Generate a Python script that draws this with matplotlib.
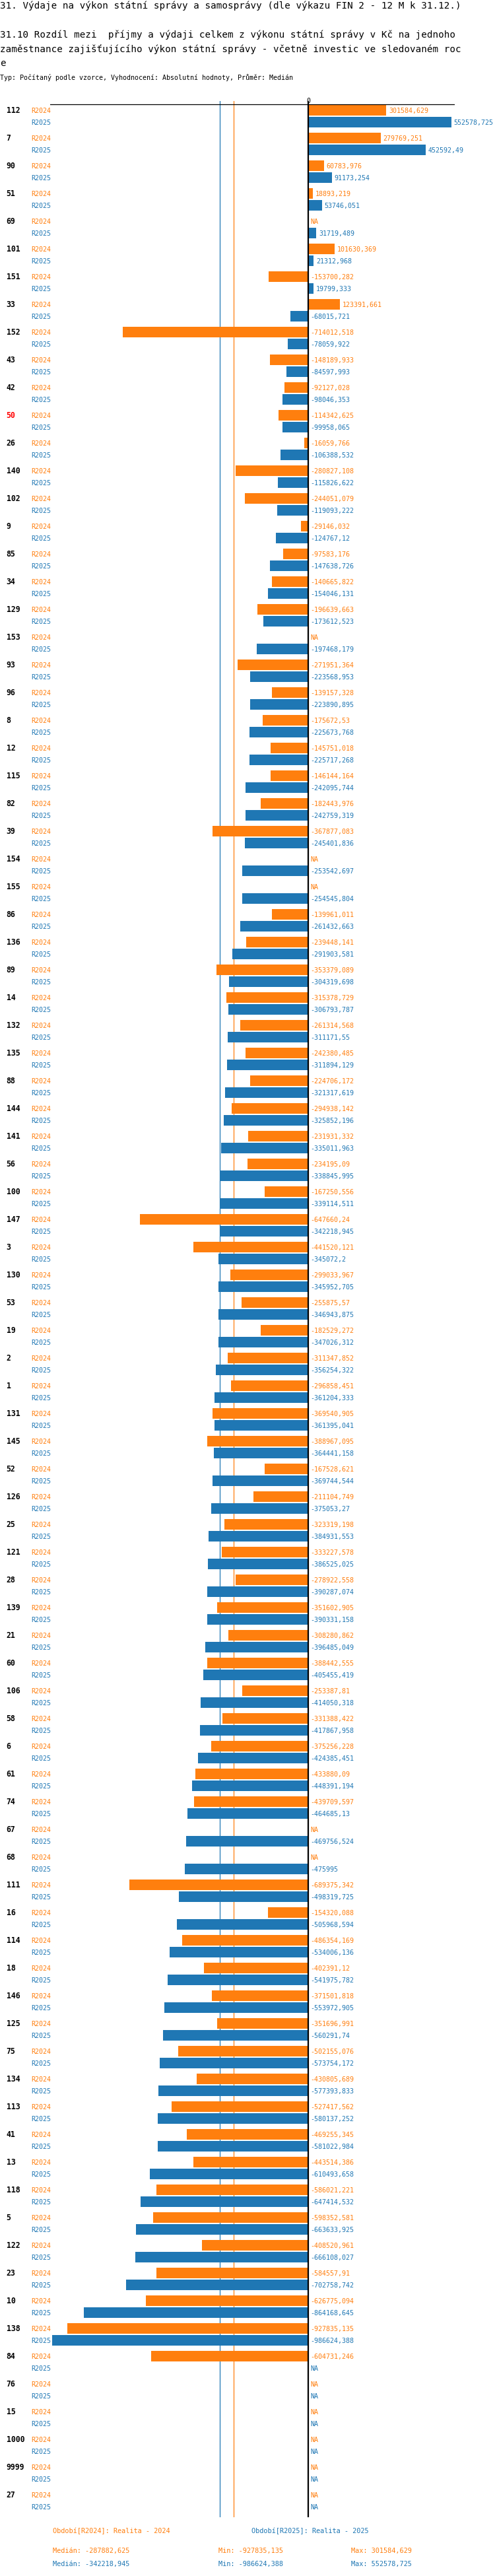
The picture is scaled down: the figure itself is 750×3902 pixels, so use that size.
import numpy as np
import matplotlib
matplotlib.use("Agg")
import matplotlib.pyplot as plt
from matplotlib.transforms import blended_transform_factory

NA = np.nan

categories = ["112", "7", "90", "51", "69", "101", "151", "33", "152", "43",
              "42", "50", "26", "140", "102", "9", "85", "34", "129", "153",
              "93", "96", "8", "12", "115", "82", "39", "154", "155", "86",
              "136", "89", "14", "132", "135", "88", "144", "141", "56", "100",
              "147", "3", "130", "53", "19", "2", "1", "131", "145", "52",
              "126", "25", "121", "28", "139", "21", "60", "106", "58", "6",
              "61", "74", "67", "68", "111", "16", "114", "18", "146", "125",
              "75", "134", "113", "41", "13", "118", "5", "122", "23", "10",
              "138", "84", "76", "15", "1000", "9999", "27"]

r2024 = [301584.629, 279769.251, 60783.976, 18893.219, NA, 101630.369, -153700.282, 123391.661, -714012.518, -148189.933,
         -92127.028, -114342.625, -16059.766, -280827.108, -244051.079, -29146.032, -97583.176, -140665.822, -196639.663, NA,
         -271951.364, -139157.328, -175672.53, -145751.018, -146144.164, -182443.976, -367877.083, NA, NA, -139961.011,
         -239448.141, -353379.089, -315378.729, -261314.568, -242380.485, -224706.172, -294938.142, -231931.332, -234195.09, -167250.556,
         -647660.24, -441520.121, -299033.967, -255875.57, -182529.272, -311347.852, -296858.451, -369540.905, -388967.095, -167528.621,
         -211104.749, -323319.198, -333227.578, -278922.558, -351602.905, -308280.862, -388442.555, -253387.81, -331388.422, -375256.228,
         -433880.09, -439709.597, NA, NA, -689375.342, -154320.088, -486354.169, -402391.12, -371501.818, -351696.991,
         -502155.076, -430805.689, -527417.562, -469255.345, -443514.386, -586021.221, -598352.581, -408520.961, -584557.91, -626775.094,
         -927835.135, -604731.246, NA, NA, NA, NA, NA]

r2025 = [552578.725, 452592.49, 91173.254, 53746.051, 31719.489, 21312.968, 19799.333, -68015.721, -78059.922, -84597.993,
         -98046.353, -99958.065, -106388.532, -115826.622, -119093.222, -124767.12, -147638.726, -154046.131, -173612.523, -197468.179,
         -223568.953, -223890.895, -225673.768, -225717.268, -242095.744, -242759.319, -245401.836, -253542.697, -254545.804, -261432.663,
         -291903.581, -304319.698, -306793.787, -311171.55, -311894.129, -321317.619, -325852.196, -335011.963, -338845.995, -339114.511,
         -342218.945, -345072.2, -345952.705, -346943.875, -347026.312, -356254.322, -361204.333, -361395.041, -364441.158, -369744.544,
         -375053.27, -384931.553, -386525.025, -390287.074, -390331.158, -396485.049, -405455.419, -414050.318, -417867.958, -424385.451,
         -448391.194, -464685.13, -469756.524, -475995.0, -498319.725, -505968.594, -534006.136, -541975.782, -553972.905, -560291.74,
         -573754.172, -577393.833, -580137.252, -581022.984, -610493.658, -647414.532, -663633.925, -666108.027, -702758.742, -864168.645,
         -986624.388, NA, NA, NA, NA, NA, NA]

highlight = "50"
series_names = ["R2024", "R2025"]
legend_titles = ["Období[R2024]: Realita - 2024", "Období[R2025]: Realita - 2025"]
title_lines = ["31. Výdaje na výkon státní správy a samosprávy (dle výkazu FIN 2 - 12 M k 31.12.)",
               "31.10 Rozdíl mezi  příjmy a výdaji celkem z výkonu státní správy v Kč na jednoho",
               "zaměstnance zajišťujícího výkon státní správy - včetně investic ve sledovaném roc",
               "e"]
subtitle = "Typ: Počítaný podle vzorce, Vyhodnocení: Absolutní hodnoty, Průměr: Medián"

ORANGE = "#ff7f0e"
BLUE = "#1f77b4"
MONO = "DejaVu Sans Mono"

W, H = 750, 3902
fig = plt.figure(figsize=(W / 100, H / 100), dpi=100)


def fx(px):
    return px / W


def fy(py):
    return 1 - py / H


def fmt(v):
    s = f"{v:.3f}".rstrip("0").rstrip(".")
    return s.replace(".", ",")


# titles
title_base = [13, 57, 79, 100]
for line, yb in zip(title_lines, title_base):
    fig.text(fx(0.5), fy(yb), line, fontsize=10.3, family=MONO, va="baseline", ha="left")
fig.text(fx(0.5), fy(121), subtitle, fontsize=7.2, family=MONO, va="baseline", ha="left")

# plotting area
AX_TOP, AX_BOT, AX_L, AX_R = 153, 3813, 76, 689
ax = fig.add_axes([fx(AX_L), fy(AX_BOT), (AX_R - AX_L) / W, (AX_BOT - AX_TOP) / H])
ax.set_xlim(-995000, 565000)
ax.set_ylim(AX_BOT - AX_TOP, 0)
ax.axis("off")

v24 = np.array(r2024, dtype=float)
v25 = np.array(r2025, dtype=float)
n = len(categories)
idx = np.arange(n)
GROUP = 42
y24 = 14 + GROUP * idx
y25 = 32 + GROUP * idx
BH = 16

m24 = ~np.isnan(v24)
m25 = ~np.isnan(v25)
ax.barh(y24[m24], v24[m24], height=BH, color=ORANGE, zorder=3)
ax.barh(y25[m25], v25[m25], height=BH, color=BLUE, zorder=3)

med24 = np.nanmedian(v24)
med25 = np.nanmedian(v25)
ax.axvline(med25, color=BLUE, lw=0.9, zorder=1)
ax.axvline(med24, color=ORANGE, lw=0.9, zorder=1)
ax.axvline(0, color="black", lw=1.6, zorder=4)
ax.axhline(5, color="black", lw=0.9, zorder=4)
ax.text(0, 2.5, "0", fontsize=7.2, family=MONO, ha="center", va="baseline")

trans = blended_transform_factory(fig.transFigure, ax.transData)
for i, cat in enumerate(categories):
    col = "#ff0000" if cat == highlight else "black"
    ax.text(fx(9.6), y24[i] + 4.2, cat, transform=trans, fontsize=8.3, weight="bold",
            family=MONO, color=col, ha="left", va="baseline")
    for vals, ys, name, c in ((v24, y24, series_names[0], ORANGE), (v25, y25, series_names[1], BLUE)):
        ax.text(fx(47), ys[i] + 4, name, transform=trans, fontsize=7.2, family=MONO,
                color=c, ha="left", va="baseline")
        v = vals[i]
        if np.isnan(v):
            lab, xa = "NA", 0.0
        else:
            lab, xa = fmt(v), max(v, 0.0)
        ax.annotate(lab, xy=(xa, ys[i] + 4), xytext=(2.6, 0), textcoords="offset points",
                    fontsize=7.2, family=MONO, color=c, ha="left", va="baseline")

# legend / statistics
fig.text(fx(80), fy(3837), legend_titles[0], fontsize=7.4, family=MONO, color=ORANGE, va="baseline")
fig.text(fx(381), fy(3837), legend_titles[1], fontsize=7.4, family=MONO, color=BLUE, va="baseline")
for vals, yb, c in ((v24, 3867, ORANGE), (v25, 3887, BLUE)):
    fig.text(fx(80), fy(yb), "Medián: " + fmt(np.nanmedian(vals)), fontsize=7.4, family=MONO, color=c, va="baseline")
    fig.text(fx(331), fy(yb), "Min: " + fmt(np.nanmin(vals)), fontsize=7.4, family=MONO, color=c, va="baseline")
    fig.text(fx(532), fy(yb), "Max: " + fmt(np.nanmax(vals)), fontsize=7.4, family=MONO, color=c, va="baseline")

fig.savefig("out.png", dpi=100, facecolor="white")
